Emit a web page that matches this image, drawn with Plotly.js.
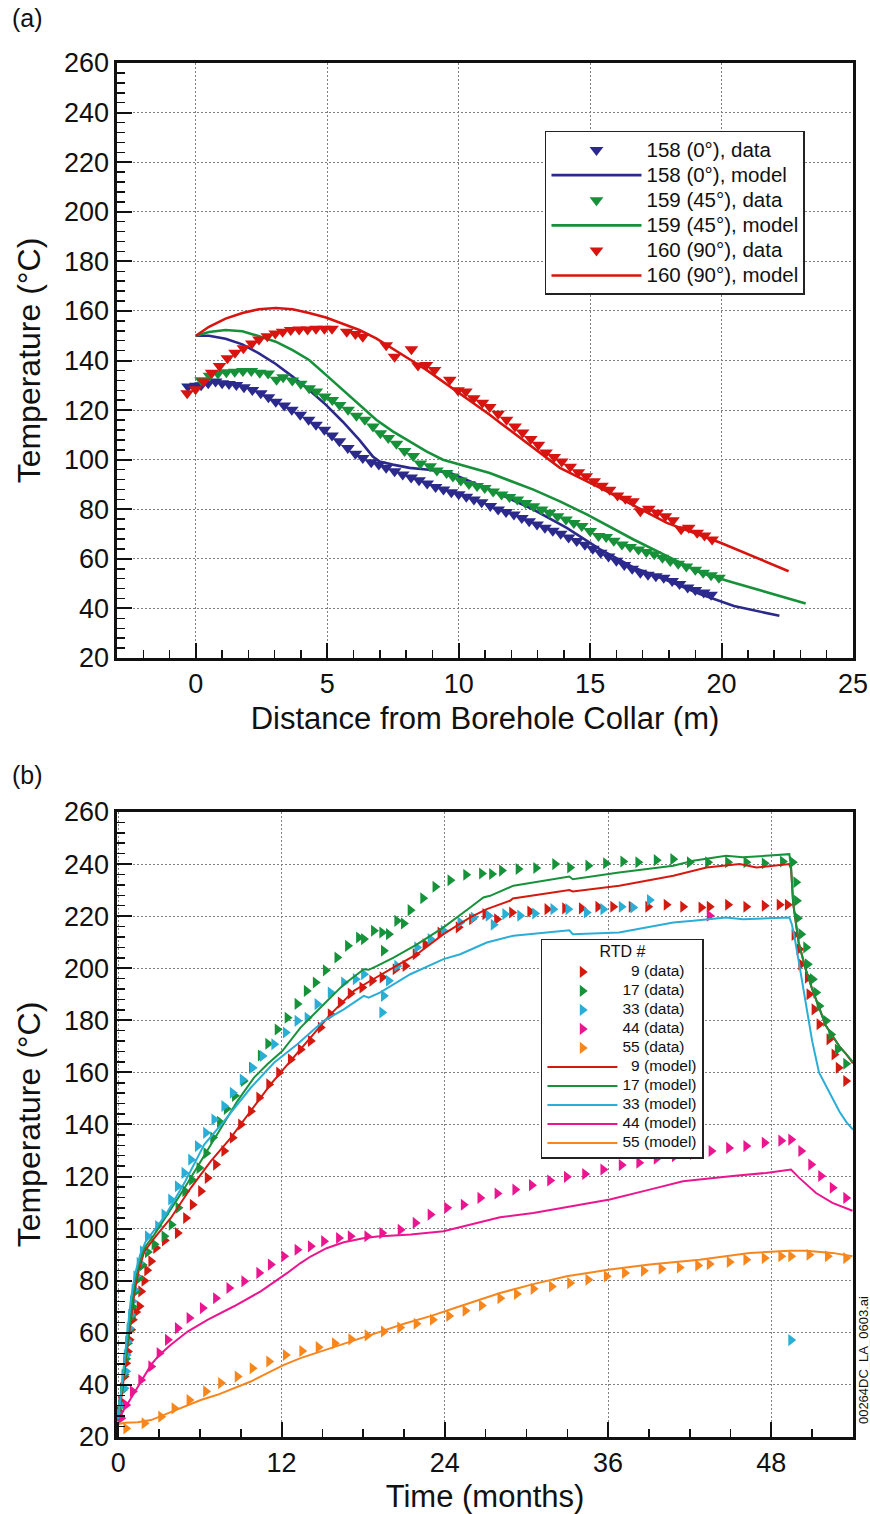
<!DOCTYPE html>
<html><head><meta charset="utf-8">
<script src="https://cdn.plot.ly/plotly-3.0.1.min.js"></script>
<style>html,body{margin:0;padding:0;background:#fff}#chart{width:870px;height:1514px}</style>
</head><body><div id="chart"></div>
<script>
// ---------- Panel (a): distance (m) vs temperature (°C) ----------
const bh158Data = [[-0.3,129.5],[0.0,129.8],[0.2,130],[0.47,130.8],[0.75,131.5],[1.0,130.8],[1.26,130.5],[1.54,130.1],[1.83,129.2],[2.15,128.1],[2.47,126.8],[2.76,125.2],[3.04,123.4],[3.36,121.8],[3.65,120.1],[3.97,118.1],[4.29,116.1],[4.57,114.1],[4.89,112.1],[5.18,109.7],[5.46,107.4],[5.78,104.7],[6.07,102.4],[6.35,100.7],[6.67,99.0],[6.96,98.0],[7.24,96.7],[7.56,95.3],[7.87,94.0],[8.19,92.8],[8.49,91.7],[8.8,90.4],[9.12,89.0],[9.42,88.0],[9.72,86.9],[10.0,86.0],[10.29,85.0],[10.58,83.9],[10.87,82.8],[11.2,81.3],[11.5,79.9],[11.8,78.9],[12.1,77.9],[12.4,76.5],[12.68,75.2],[12.98,73.8],[13.28,72.5],[13.58,71.3],[13.88,70.1],[14.18,68.6],[14.49,67.2],[14.8,65.7],[15.1,64.1],[15.4,62.5],[15.7,60.9],[16.0,59.2],[16.3,57.5],[16.6,56.0],[16.91,54.4],[17.2,53.6],[17.5,53.0],[17.8,52.4],[18.12,51.1],[18.4,49.8],[18.71,48.4],[19.0,47.4],[19.32,46.4],[19.6,45.5]];
const bh158Model = [[0,150],[0.5,150],[1.13,148.8],[1.77,146.5],[2.4,142.9],[3.04,138.6],[3.68,133.5],[4.31,128.1],[4.95,122.1],[5.58,115.4],[6.22,108],[6.73,101.3],[6.98,99.3],[7.49,98],[8.13,96.7],[8.77,96],[9.66,94.7],[11.18,87.9],[12.84,79.9],[14.11,72.5],[15.38,63.8],[16.65,56.5],[17.67,52.4],[19.2,45.7],[20.47,41],[22.2,37]];
const bh159Data = [[0.2,132],[0.52,133.8],[0.84,134.8],[1.16,135.3],[1.48,135.5],[1.79,135.8],[2.11,135.8],[2.43,135.1],[2.75,134.8],[3.07,132.2],[3.32,133.2],[3.67,131.9],[3.99,130.6],[4.31,128.8],[4.58,127.5],[4.9,125.5],[5.19,124.1],[5.47,122.1],[5.79,120.1],[6.11,117.7],[6.43,116.1],[6.74,113.4],[7.02,110.7],[7.32,108.7],[7.63,106.4],[7.94,103.5],[8.27,101.5],[8.54,98.5],[8.91,97.3],[9.17,95.6],[9.54,94.6],[9.78,93.2],[10.08,91.6],[10.39,90.2],[10.7,89.4],[10.99,88.6],[11.31,87.2],[11.63,85.9],[11.93,84.9],[12.23,83.9],[12.54,82.5],[12.84,81.2],[13.15,79.9],[13.45,78.6],[13.76,77.2],[14.08,75.9],[14.38,74.5],[14.68,73.2],[15.0,71.2],[15.32,69.2],[15.61,68.8],[15.9,67.3],[16.21,65.8],[16.52,64.8],[16.84,63.8],[17.14,62.8],[17.44,61.8],[17.75,60.4],[18.05,59.1],[18.35,58],[18.66,56.9],[19.0,55.6],[19.3,54.4],[19.6,53.4],[19.9,52.4]];
const bh159Model = [[0,150],[0.5,151.5],[1.13,152.3],[1.77,151.8],[2.4,149.8],[3.04,147.6],[3.68,144.2],[4.31,140.2],[4.95,134.2],[5.58,128.1],[6.22,122.1],[6.86,116.1],[7.49,111.4],[8.13,107.4],[8.77,103.3],[9.4,100],[10.04,98],[10.68,96],[11.18,94.6],[12.84,87.9],[13.85,83.2],[14.87,77.9],[16.65,67.8],[17.93,61.1],[19.2,54.4],[20.47,50.4],[23.2,42]];
const bh160Data = [[-0.33,126.8],[-0.01,128.4],[0.3,131.5],[0.6,135.1],[0.9,137.8],[1.2,140.9],[1.49,143.1],[1.81,144.9],[2.13,146.9],[2.4,148.5],[2.72,149.8],[3.02,150.9],[3.3,151.6],[3.61,152.3],[3.93,152.5],[4.25,152.5],[4.57,152.8],[4.89,152.8],[5.18,152.8],[5.74,151.6],[6.07,150.7],[6.35,149.6],[7.24,146.2],[7.56,141.5],[8.2,144.5],[8.45,138],[8.77,138.2],[9.08,136.2],[9.66,132.2],[9.97,128],[10.27,127.5],[10.57,124.8],[10.9,123],[11.18,121.2],[11.5,118.5],[11.82,116.1],[12.14,113.4],[12.43,111],[12.74,108.3],[13.03,106],[13.32,102.9],[13.63,101.1],[13.92,99.3],[14.24,97.1],[14.55,94.9],[14.85,93.3],[15.15,91.3],[15.45,89.5],[15.74,87.9],[16.04,85.5],[16.34,84.2],[16.63,83.2],[16.91,79.2],[17.23,80.2],[17.54,78.6],[17.86,77.2],[18.15,75.6],[18.46,71.9],[18.75,72.5],[19.07,70.5],[19.35,69.4],[19.64,67.8]];
const bh160Model = [[0,150],[0.5,153.6],[1.13,156.9],[1.77,159.2],[2.4,160.7],[3.04,161.2],[3.68,160.7],[4.31,159.2],[4.95,157.3],[5.58,154.9],[6.22,152.3],[6.86,148.9],[7.49,144.9],[8.13,140.5],[8.77,136.2],[9.4,131.5],[10.04,126.8],[11.18,118.1],[11.56,115],[13.85,96.7],[15.38,88.6],[17.92,74.5],[19.96,66.5],[22.55,55]];

// ---------- Panel (b): time (months) vs temperature (°C) ----------
const rtd9Data = [[0.07,29.8],[0.2,33.6],[0.32,38.7],[0.44,43.2],[0.56,48.3],[0.69,52.8],[0.81,57.3],[0.93,61.2],[1.05,65],[1.3,68],[1.54,70.2],[1.66,75.9],[1.9,80],[2.1,84],[2.4,87.5],[2.76,92.6],[3.4,95.5],[4.35,98.3],[4.96,104.1],[5.45,109.2],[6.06,114.4],[6.55,119.5],[7.16,124.6],[7.77,129.8],[8.39,134.9],[9.0,140],[9.73,145.1],[10.34,150.3],[11.07,155.4],[11.8,159.9],[12.66,165],[13.39,168.8],[14.13,172.1],[14.86,177.2],[15.59,182.3],[16.33,186.8],[17.06,190.3],[17.92,192.6],[18.65,195.2],[19.4,196.5],[20.36,199.6],[21.09,200.9],[21.83,205.4],[22.56,209.2],[23.66,213.7],[25.0,215.7],[25.98,218.8],[26.96,220.8],[27.82,218.8],[28.92,221.4],[30.26,221.8],[31.52,222.7],[32.82,223],[34.05,223],[35.26,223.6],[36.36,223.6],[37.71,223.6],[38.93,223.6],[40.28,224.4],[41.5,223.6],[42.84,223.3],[43.45,223.6],[44.8,224.4],[46.14,223.6],[47.49,224],[48.59,224.4],[49.19,224.4],[49.68,212.8],[50.05,207.3],[50.18,201.5],[50.66,196.4],[50.78,190],[51.15,184.2],[51.52,178.5],[52.25,172.7],[52.62,166.9],[52.93,161.8],[53.48,156.7]];
const rtd17Data = [[0.07,28],[0.2,32],[0.32,38],[0.44,44],[0.56,50],[0.69,56],[0.81,61],[0.93,66],[1.05,70],[1.3,76],[1.54,81],[1.78,86],[2.15,91],[2.64,94],[3.37,97.1],[3.9,101.5],[4.4,108],[4.9,114.4],[5.4,118.8],[5.94,123.3],[6.45,129],[6.95,135],[7.45,141],[7.95,146],[8.55,151],[9.2,156.7],[9.8,161.8],[10.45,166.5],[11.0,171],[11.69,176.5],[12.42,181],[13.15,186.3],[13.83,191.3],[14.49,194.5],[15.23,199.2],[16.08,204.1],[16.86,208.6],[17.67,211.8],[18.04,211.2],[18.77,214.4],[19.38,213.7],[19.5,206.7],[19.87,213.1],[20.48,218.2],[20.97,217.2],[21.46,222.3],[22.39,226.9],[23.29,231.3],[24.39,233.8],[25.55,235.9],[26.71,236.4],[27.45,236.2],[28.18,237.5],[29.4,238.1],[30.7,238.5],[32.09,240],[33.19,238.7],[34.53,239.4],[35.83,240.3],[37.1,241],[38.2,240.7],[39.55,241.5],[40.77,241.9],[41.99,240.7],[43.33,240.7],[44.8,240.7],[46.15,240.7],[47.49,240.3],[48.83,241],[49.56,240.7],[49.81,233],[49.86,225.9],[49.93,219.2],[50.18,213.1],[50.54,208],[50.66,201.5],[51.03,195.8],[51.28,190.7],[51.52,185.5],[52.01,179.8],[52.38,174.6],[52.86,168.8],[53.48,163.3]];
const rtd33Data = [[-0.04,29.1],[0.2,32.3],[0.44,38.7],[0.56,45.2],[0.6,51.5],[0.69,56.7],[0.81,61.8],[0.93,66.9],[1.05,72.1],[1.17,76.5],[1.3,81.7],[1.54,86.8],[1.78,91.3],[2.15,97.1],[2.9,101],[3.37,105.4],[3.86,111.2],[4.35,116.3],[4.84,121.4],[5.33,126.5],[5.82,131.7],[6.43,136.8],[7.04,141.9],[7.77,147.1],[8.39,152.2],[9.12,157.3],[9.85,161.8],[10.59,166.3],[11.44,170.8],[12.29,175.3],[13.15,179.8],[13.89,181],[14.62,186.2],[15.59,190.7],[16.57,194.5],[17.43,195.8],[18.04,197.7],[19.38,183],[19.5,189.4],[19.87,195.2],[20.48,200.9],[21.95,208],[22.93,211.2],[23.9,214.4],[25.12,217.6],[26.1,219.5],[27.2,220.2],[27.57,216.7],[28.42,220.8],[29.52,220.2],[30.62,221],[31.96,222.7],[33.06,222.7],[34.41,221.4],[35.63,222.7],[36.98,223.6],[37.83,223.3],[39.05,226.2],[49.44,57.2]];
const rtd44Data = [[0.2,27.2],[0.56,32.3],[1.05,37.5],[1.66,41.9],[2.4,47.1],[3.01,52.2],[3.62,57.3],[4.35,61.8],[5.21,65.7],[6.19,69.5],[7.16,73.3],[8.14,77.2],[9.24,79.8],[10.34,83],[11.19,86.2],[12.17,89.4],[13.15,91.9],[14.13,93.2],[15.1,95.2],[16.2,96.4],[17.06,97.1],[18.28,97.1],[19.38,98.3],[20.73,99.6],[21.83,102.2],[22.93,105.4],[24.15,108],[25.37,109.2],[26.59,111.8],[27.85,113.5],[29.16,115],[30.38,116.7],[31.72,118.5],[32.95,119.9],[34.29,121],[35.63,122.7],[36.98,124.4],[38.27,125.3],[39.55,126.9],[40.89,127.8],[42.23,128.7],[43.45,220.2],[43.58,129.8],[44.87,131],[46.14,131.7],[47.49,133],[48.71,133.8],[49.44,134.2],[50.18,129.8],[50.91,124.6],[51.64,120.2],[52.49,115.7],[53.48,111.8]];
const rtd55Data = [[0.56,23.3],[1.91,25.3],[3.13,27.8],[4.11,31],[5.21,34.2],[6.43,37.5],[7.53,40.7],[8.75,43.2],[9.85,46.4],[11.07,49],[12.29,51.5],[13.5,53],[14.7,54.5],[15.9,56],[17.1,57.5],[18.3,59],[19.5,60.5],[20.7,62],[21.9,63.5],[23.1,65],[24.3,66.5],[25.5,68.5],[26.7,70.5],[28.06,73.3],[29.28,74.9],[30.5,76.9],[31.85,77.8],[33.19,79.1],[34.53,80.4],[35.88,81.7],[37.22,83],[38.61,83.8],[39.91,84.6],[41.25,85.1],[42.6,85.9],[43.45,86.4],[44.92,87.2],[46.14,88.1],[47.49,88.7],[48.71,89.4],[49.44,89.4],[50.78,90],[52.13,89.4],[53.48,88.7]];
const rtd9Model = [[0,27],[0.3,38],[0.6,52],[0.9,65],[1.2,76],[1.5,84],[1.91,91.3],[2.64,96.4],[3.86,104.1],[5.33,115.7],[6.8,125.9],[8.26,134.9],[9.73,145.1],[11.19,155.4],[12.66,164.4],[14.13,173.3],[15.59,182.3],[17.31,191.3],[18.53,195.2],[20.24,200.3],[21.95,205.4],[23.9,213.1],[25.86,219.5],[27.08,222.7],[28.79,225.9],[29.0,226.8],[33.15,230],[33.4,229.5],[36.82,231.7],[40.79,235.5],[42.25,237.5],[43.23,238.7],[45.67,240],[46.9,238.7],[49.32,240],[49.45,238],[49.6,225],[50,210],[50.5,200],[51,192],[51.5,185],[52,178],[52.5,174],[53,170],[53.5,167],[54,163.5]];
const rtd17Model = [[0,27],[0.3,40],[0.6,55],[0.9,68],[1.2,79],[1.5,86],[1.91,92.6],[2.64,97.7],[3.62,105.4],[4.72,114.4],[6.06,125.9],[7.53,138.7],[8.75,149],[9.97,158],[10.95,163.1],[12.05,168.2],[13.39,177.2],[15.1,186.2],[16.57,193.8],[18.04,199.6],[18.4,199.4],[19.02,200.9],[20.23,204.1],[21.95,209.2],[23.9,215.7],[25.86,223.3],[26.83,227.2],[27.32,227.8],[29.04,231.7],[33.15,235.2],[33.4,234.2],[36.8,236.8],[40.79,239.4],[42.25,241.3],[44.67,243.2],[45.9,242.6],[49.32,243.8],[49.45,238.7],[49.6,225],[50,210],[50.5,200],[51,192],[51.5,185],[52,178],[52.5,174],[53,170],[53.5,167],[54,164]];
const rtd33Model = [[0,27],[0.3,42],[0.6,58],[0.9,72],[1.2,82],[1.6,90],[2.0,95],[3.5,105.4],[4.9,118],[6.31,132.3],[7.77,141.3],[9.73,154.1],[11.44,163.7],[13.15,170.8],[15.1,179.8],[16.57,184.2],[18.04,189.4],[18.4,188.7],[19.26,190.7],[21.46,197.7],[23.9,203.5],[25.13,205.4],[27.08,209.9],[29.04,212.5],[33.15,214.6],[33.4,213.1],[36.8,213.7],[40.79,217.6],[42.25,218.2],[44.67,219.5],[45.9,218.8],[49.32,219.5],[49.5,217],[49.7,212],[50,203],[50.5,187],[51,172],[51.5,160],[52,155],[52.5,150],[53,145],[53.5,141],[54,138]];
const rtd44Model = [[0,25],[0.32,29.8],[0.93,34.9],[1.66,41.3],[2.4,47.7],[3.01,51.5],[3.86,55.4],[5.09,60.5],[6.55,65],[8.5,70.2],[10.46,75.9],[12.42,83],[13.39,86.8],[14.13,89.3],[15.3,92.5],[16.57,94.8],[18,96.3],[19.02,97],[21.5,97.8],[23.9,99],[25.5,101],[27.32,103.5],[28.06,104.4],[30.5,106],[34.16,109.2],[36.12,111.2],[39.05,115],[41.5,118.2],[45.16,120.2],[47.61,121.4],[49.44,122.7],[50.05,119.5],[51.28,113.7],[52.49,109.9],[53.96,106.9]];
const rtd55Model = [[0,25],[0.5,25.5],[1.42,25.7],[2.4,26.5],[3.62,29.1],[4.84,31.7],[6.06,34.2],[7.28,36.2],[8.5,38.7],[9.73,41.3],[10.95,44.5],[12.17,47.7],[13.39,50.3],[15,53],[17,56.5],[19,60],[21,63.5],[23,66.5],[25,70],[26.5,72.5],[28.06,75.3],[30.5,78.7],[32.95,81.7],[36,84.2],[39.05,86.2],[42.72,88.1],[46.39,90.7],[49.32,91.5],[50.54,91.5],[52.49,90.7],[53.96,89.4]];

const legendA = ['158 (0°), data','158 (0°), model','159 (45°), data','159 (45°), model','160 (90°), data','160 (90°), model'];
const legendB = ['\u00a0\u00a09 (data)','17 (data)','33 (data)','44 (data)','55 (data)','\u00a0\u00a09 (model)','17 (model)','33 (model)','44 (model)','55 (model)'];
const legendBTitle = 'RTD #';
const xTicksA = [0,5,10,15,20,25];
const xTicksB = [0,12,24,36,48];
const yTicks = [20,40,60,80,100,120,140,160,180,200,220,240,260];

const FONT = 'Arial, "Liberation Sans", Helvetica, sans-serif';
const cA = {blue:'#2b2a8c', green:'#17903a', red:'#d7140f'};
const cB = {red:'#d41a10', green:'#16923a', cyan:'#2aaed6', magenta:'#ec1590', orange:'#f7861c'};

const xs = a => a.map(p => p[0]);
const ys = a => a.map(p => p[1]);
const lgA = s => '<span style="font-size:20.5px">' + s + '</span>';
const lgB = s => '<span style="font-size:15.5px">' + s + '</span>';

function dataTraceA(arr, name, color){
  return {x: xs(arr), y: ys(arr), type:'scatter', mode:'markers', name: lgA(name), legend:'legend',
    xaxis:'x', yaxis:'y', marker:{symbol:'triangle-down', size:12, color: color, line:{width:0}}};
}
function modelTraceA(arr, name, color){
  return {x: xs(arr), y: ys(arr), type:'scatter', mode:'lines', name: lgA(name), legend:'legend',
    xaxis:'x', yaxis:'y', line:{color: color, width:2.6}};
}
function dataTraceB(arr, name, color){
  return {x: xs(arr), y: ys(arr), type:'scatter', mode:'markers', name: lgB(name), legend:'legend2',
    xaxis:'x2', yaxis:'y2', marker:{symbol:'triangle-right', size:10.5, color: color, line:{width:0}}};
}
function modelTraceB(arr, name, color){
  return {x: xs(arr), y: ys(arr), type:'scatter', mode:'lines', name: lgB(name), legend:'legend2',
    xaxis:'x2', yaxis:'y2', line:{color: color, width:2}};
}

const traces = [
  dataTraceA(bh158Data, legendA[0], cA.blue),
  modelTraceA(bh158Model, legendA[1], cA.blue),
  dataTraceA(bh159Data, legendA[2], cA.green),
  modelTraceA(bh159Model, legendA[3], cA.green),
  dataTraceA(bh160Data, legendA[4], cA.red),
  modelTraceA(bh160Model, legendA[5], cA.red),
  dataTraceB(rtd9Data, legendB[0], cB.red),
  dataTraceB(rtd17Data, legendB[1], cB.green),
  dataTraceB(rtd33Data, legendB[2], cB.cyan),
  dataTraceB(rtd44Data, legendB[3], cB.magenta),
  dataTraceB(rtd55Data, legendB[4], cB.orange),
  modelTraceB(rtd9Model, legendB[5], cB.red),
  modelTraceB(rtd17Model, legendB[6], cB.green),
  modelTraceB(rtd33Model, legendB[7], cB.cyan),
  modelTraceB(rtd44Model, legendB[8], cB.magenta),
  modelTraceB(rtd55Model, legendB[9], cB.orange)
];

function axis(extra){
  return Object.assign({
    showline:true, linecolor:'#111', linewidth:2.6, mirror:true,
    ticks:'inside', ticklen:15, tickwidth:2, tickcolor:'#111',
    showgrid:true, gridcolor:'#808080', gridwidth:1, griddash:'2px,2px',
    zeroline:false, fixedrange:true,
    tickfont:{family:FONT, size:27, color:'#111'},
  }, extra);
}
const minorCfg = d => ({dtick:d, ticks:'inside', ticklen:8, tickwidth:1.5, tickcolor:'#111', showgrid:false});

const layout = {
  width:870, height:1514,
  margin:{l:117, r:17, t:63, b:77},
  paper_bgcolor:'#fff', plot_bgcolor:'#fff',
  font:{family:FONT, color:'#111'},
  showlegend:true,
  xaxis: axis({domain:[0,1], anchor:'y', range:[-3,25], tickmode:'array', tickvals:xTicksA,
    minor:Object.assign(minorCfg(1), {tick0:0}),
    title:{text:'Distance from Borehole Collar (m)', standoff:10, font:{family:FONT, size:31}}}),
  yaxis: axis({domain:[0.56696,1], anchor:'x', range:[20,260], tickmode:'array', tickvals:yTicks,
    minor:Object.assign(minorCfg(4), {tick0:20}),
    title:{text:'Temperature (°C)', standoff:14, font:{family:FONT, size:32}}}),
  xaxis2: axis({domain:[0,1], anchor:'y2', range:[-0.1,54], tickmode:'array', tickvals:xTicksB,
    minor:Object.assign(minorCfg(3), {tick0:0}),
    title:{text:'Time (months)', standoff:10, font:{family:FONT, size:31}}}),
  yaxis2: axis({domain:[0,0.45488], anchor:'x2', range:[20,260], tickmode:'array', tickvals:yTicks,
    minor:Object.assign(minorCfg(4), {tick0:20}),
    title:{text:'Temperature (°C)', standoff:14, font:{family:FONT, size:32}}}),
  legend:{x:0.5815, y:0.95051, xanchor:'left', yanchor:'top', xref:'paper', yref:'paper',
    bgcolor:'#fff', bordercolor:'#222', borderwidth:1.5, font:{family:FONT, size:17, color:'#111'},
    traceorder:'normal', itemwidth:90},
  legend2:{x:0.576, y:0.36245, xanchor:'left', yanchor:'top', xref:'paper', yref:'paper',
    bgcolor:'#fff', bordercolor:'#222', borderwidth:1.5, font:{family:FONT, size:10.3, color:'#111'},
    traceorder:'normal', itemwidth:70,
    title:{text:'<span style="font-size:16px">' + legendBTitle + '</span>', side:'top center', font:{family:FONT, size:13, color:'#111'}}},
  annotations:[
    {text:'(a)', xref:'paper', yref:'paper', x:-0.1454, y:1.0328, xanchor:'left', yanchor:'middle', showarrow:false, font:{family:FONT, size:25}},
    {text:'(b)', xref:'paper', yref:'paper', x:-0.1454, y:0.4818, xanchor:'left', yanchor:'middle', showarrow:false, font:{family:FONT, size:25}},
    {text:'00264DC_LA_0603.ai', xref:'paper', yref:'paper', x:1.0136, y:0.056, xanchor:'center', yanchor:'middle', textangle:-90, showarrow:false, font:{family:FONT, size:13}}
  ]
};

Plotly.newPlot('chart', traces, layout, {staticPlot:true, displayModeBar:false});
</script></body></html>
